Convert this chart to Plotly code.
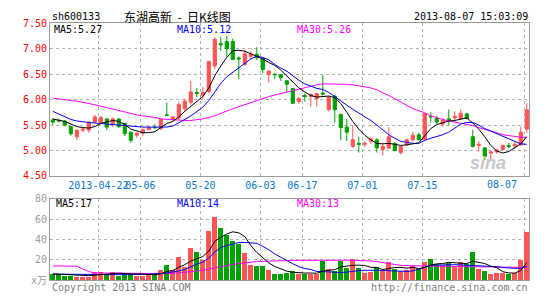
import pandas as pd
import plotly.graph_objects as go

# ---------------- data ----------------
holidays = ["2013-04-29", "2013-04-30", "2013-05-01", "2013-06-10", "2013-06-11", "2013-06-12"]
dates = [d.strftime("%Y-%m-%d") for d in pd.bdate_range("2013-04-10", "2013-08-07") if d.strftime("%Y-%m-%d") not in holidays]

open_ = [5.60, 5.59, 5.58, 5.47, 5.27, 5.40, 5.40, 5.56, 5.55, 5.62,
         5.51, 5.62, 5.53, 5.36, 5.30, 5.34, 5.41, 5.46, 5.43, 5.70,
         5.62, 5.64, 5.82, 5.95, 6.14, 6.08, 6.16, 6.66, 7.10, 7.14,
         7.14, 6.82, 6.69, 6.85, 6.89, 6.81, 6.49, 6.50, 6.49, 6.37,
         6.22, 5.96, 6.08, 6.06, 6.02, 6.13, 5.80, 6.07, 5.71, 5.46,
         5.08, 5.14, 5.12, 5.18, 5.21, 5.02, 5.05, 5.14, 4.96, 5.11,
         5.21, 5.31, 5.22, 5.67, 5.63, 5.52, 5.62, 5.64, 5.63, 5.72,
         5.27, 5.10, 5.05, 4.95, 4.97, 5.02, 5.10, 5.09, 5.11, 5.42]
high = [5.63, 5.63, 5.60, 5.48, 5.41, 5.45, 5.57, 5.70, 5.67, 5.63,
        5.65, 5.63, 5.54, 5.37, 5.36, 5.43, 5.48, 5.52, 5.63, 5.94,
        5.68, 5.96, 6.02, 6.37, 6.23, 6.25, 6.76, 7.23, 7.24, 7.25,
        7.20, 6.85, 6.98, 6.94, 7.03, 6.82, 6.58, 6.52, 6.50, 6.38,
        6.23, 6.05, 6.12, 6.12, 6.13, 6.49, 6.06, 6.08, 5.72, 5.62,
        5.50, 5.27, 5.18, 5.27, 5.24, 5.15, 5.46, 5.16, 5.09, 5.22,
        5.36, 5.35, 5.73, 5.75, 5.68, 5.63, 5.81, 5.77, 5.81, 5.74,
        5.41, 5.18, 5.07, 5.00, 5.04, 5.11, 5.15, 5.17, 5.46, 5.93]
low = [5.50, 5.55, 5.47, 5.29, 5.21, 5.36, 5.35, 5.55, 5.53, 5.40,
       5.46, 5.44, 5.28, 5.15, 5.25, 5.28, 5.40, 5.42, 5.40, 5.68,
       5.58, 5.60, 5.76, 5.90, 6.05, 6.02, 6.12, 6.60, 6.96, 6.84,
       6.78, 6.40, 6.66, 6.78, 6.78, 6.52, 6.34, 6.40, 6.37, 6.15,
       5.91, 5.92, 5.96, 5.86, 5.86, 6.08, 5.77, 5.55, 5.20, 5.19,
       5.05, 4.96, 5.07, 5.13, 4.96, 4.90, 5.03, 4.98, 4.92, 5.08,
       5.18, 5.20, 5.20, 5.55, 5.52, 5.47, 5.50, 5.56, 5.60, 5.61,
       5.06, 4.98, 4.81, 4.81, 4.94, 5.00, 5.04, 5.04, 5.09, 5.35]
close = [5.56, 5.58, 5.50, 5.33, 5.40, 5.42, 5.56, 5.66, 5.65, 5.46,
         5.62, 5.47, 5.33, 5.20, 5.34, 5.41, 5.45, 5.45, 5.61, 5.69,
         5.66, 5.90, 5.97, 6.15, 6.12, 6.14, 6.75, 7.18, 7.08, 7.00,
         6.79, 6.80, 6.90, 6.90, 6.82, 6.59, 6.56, 6.49, 6.43, 6.30,
         5.93, 6.02, 6.06, 6.10, 6.12, 6.11, 6.05, 5.80, 5.45, 5.36,
         5.21, 5.12, 5.14, 5.23, 5.05, 5.08, 5.27, 5.00, 5.08, 5.21,
         5.30, 5.21, 5.72, 5.66, 5.56, 5.60, 5.61, 5.67, 5.73, 5.63,
         5.08, 5.12, 4.88, 4.97, 5.01, 5.10, 5.08, 5.12, 5.36, 5.80]
volume = [6, 6, 5, 5, 4, 4, 4, 8, 8, 6,
          8, 5, 6, 6, 5, 5, 6.6, 5.3, 10.4, 15.1,
          10.4, 22.9, 13.5, 32.3, 28.2, 19.8, 48.6, 62.1, 51.8, 44.8,
          39.2, 35.4, 27.3, 15.4, 14.2, 14.2, 10.1, 6.3, 6.3, 7.5,
          9.1, 6.3, 6.3, 6.3, 6.3, 18.8, 11.6, 9.1, 19.5, 12,
          21.3, 12, 7.8, 8.5, 13.6, 10.5, 18.4, 11.3, 9.3, 10.2,
          14.5, 11.2, 17.8, 21.3, 15.8, 15.7, 17.5, 14.5, 17.9, 15.8,
          28, 11, 9.4, 6.8, 7.3, 7.7, 6.9, 7.5, 20.4, 47.8]

ma5 = [5.62, 5.60, 5.57, 5.52, 5.47, 5.45, 5.44, 5.47, 5.53, 5.56,
       5.59, 5.57, 5.51, 5.42, 5.38, 5.35, 5.35, 5.37, 5.45, 5.53,
       5.57, 5.66, 5.77, 5.87, 5.96, 6.06, 6.23, 6.47, 6.66, 6.83,
       6.96, 6.97, 6.95, 6.90, 6.84, 6.80, 6.73, 6.67, 6.58, 6.47,
       6.34, 6.23, 6.15, 6.08, 6.05, 6.06, 6.07, 6.04, 5.92, 5.75,
       5.57, 5.42, 5.30, 5.21, 5.14, 5.13, 5.14, 5.12, 5.10, 5.11,
       5.13, 5.15, 5.29, 5.43, 5.51, 5.54, 5.58, 5.59, 5.62, 5.64,
       5.54, 5.42, 5.27, 5.10, 4.99, 4.95, 4.98, 5.05, 5.13, 5.27]
ma10 = [5.77, 5.72, 5.66, 5.61, 5.58, 5.56, 5.55, 5.54, 5.53, 5.51,
        5.50, 5.49, 5.48, 5.47, 5.47, 5.46, 5.46, 5.46, 5.46, 5.46,
        5.48, 5.54, 5.61, 5.68, 5.76, 5.85, 5.98, 6.15, 6.32, 6.45,
        6.54, 6.63, 6.72, 6.80, 6.85, 6.83, 6.78, 6.69, 6.62, 6.56,
        6.47, 6.38, 6.31, 6.26, 6.22, 6.20, 6.14, 6.06, 5.97, 5.89,
        5.81, 5.74, 5.66, 5.59, 5.50, 5.40, 5.31, 5.24, 5.18, 5.16,
        5.14, 5.14, 5.20, 5.24, 5.27, 5.31, 5.36, 5.44, 5.52, 5.55,
        5.55, 5.50, 5.43, 5.38, 5.33, 5.28, 5.22, 5.17, 5.13, 5.12]
ma30 = [6.03, 6.01, 6.00, 5.98, 5.97, 5.95, 5.93, 5.90, 5.87, 5.84,
        5.81, 5.79, 5.76, 5.73, 5.70, 5.68, 5.67, 5.65, 5.62, 5.61,
        5.60, 5.59, 5.59, 5.59, 5.60, 5.62, 5.65, 5.68, 5.73, 5.78,
        5.82, 5.86, 5.90, 5.94, 5.98, 6.03, 6.06, 6.09, 6.12, 6.15,
        6.17, 6.20, 6.23, 6.26, 6.29, 6.31, 6.31, 6.31, 6.31, 6.30,
        6.29, 6.27, 6.25, 6.23, 6.19, 6.14, 6.08, 6.02, 5.95, 5.88,
        5.82, 5.78, 5.74, 5.68, 5.64, 5.61, 5.58, 5.56, 5.54, 5.52,
        5.49, 5.45, 5.42, 5.38, 5.35, 5.31, 5.29, 5.27, 5.26, 5.26]

vma5 = [6.3, 6.0, 5.6, 5.3, 5.2, 4.8, 4.5, 5.0, 5.6, 6.0,
        6.8, 7.0, 6.6, 6.2, 6.0, 5.4, 5.7, 5.6, 6.4, 8.5,
        9.6, 12.8, 15.3, 18.8, 21.4, 23.3, 28.5, 38.2, 42.1, 45.4,
        47.5, 46.5, 42.9, 34.0, 27.3, 22.0, 17.0, 13.5, 10.8, 8.9,
        7.8, 7.1, 7.1, 7.1, 6.9, 9.0, 9.9, 10.4, 13.1, 14.2,
        14.7, 14.8, 14.5, 12.7, 12.6, 10.5, 11.7, 12.5, 12.6, 11.9,
        12.7, 11.3, 12.6, 15.0, 16.1, 16.4, 17.6, 17.0, 16.3, 16.3,
        18.7, 17.4, 16.4, 13.8, 12.5, 8.4, 7.2, 7.0, 9.6, 17.2]
vma10 = [6.0, 5.9, 5.8, 5.7, 5.6, 5.5, 5.4, 5.4, 5.3, 5.3,
         5.4, 5.5, 5.5, 5.6, 5.8, 6.0, 5.9, 5.8, 6.3, 7.1,
         7.8, 9.2, 10.6, 13.3, 15.9, 17.8, 21.9, 27.7, 32.1, 34.0,
         35.8, 37.0, 37.1, 37.0, 36.2, 33.2, 30.0, 25.8, 22.4, 19.2,
         16.2, 13.4, 11.5, 10.6, 8.6, 8.5, 8.2, 7.8, 7.6, 8.0,
         9.1, 9.5, 9.8, 10.0, 9.8, 9.6, 9.3, 9.0, 8.7, 8.7,
         9.1, 10.8, 12.5, 14.7, 14.9, 15.1, 15.4, 15.3, 15.0, 14.8,
         14.7, 14.5, 14.3, 14.0, 13.3, 12.5, 12.0, 11.7, 11.9, 13.5]
vma30 = [14.1, 14.1, 14.1, 14.1, 13.8, 11.0, 8.5, 7.2, 7.1, 7.0,
         7.0, 6.9, 6.8, 6.7, 6.6, 6.5, 6.4, 6.4, 6.4, 6.5,
         6.8, 7.2, 7.7, 8.3, 9.0, 9.8, 11.0, 12.5, 13.6, 14.5,
         15.5, 16.4, 17.2, 17.8, 18.3, 18.6, 18.9, 19.1, 19.3, 19.4,
         19.5, 19.6, 19.7, 19.8, 19.9, 19.9, 19.9, 19.8, 19.8, 19.7,
         19.6, 19.5, 19.3, 18.9, 18.3, 17.6, 16.6, 15.5, 14.6, 14.3,
         14.1, 14.0, 13.9, 13.8, 13.8, 13.7, 13.6, 13.5, 13.4, 13.3,
         13.2, 13.0, 12.9, 12.8, 12.6, 12.5, 12.4, 12.3, 12.3, 12.6]

tick_dates = ["2013-04-22", "2013-05-06", "2013-05-20", "2013-06-03",
              "2013-06-17", "2013-07-01", "2013-07-15", "2013-08-07"]
tick_labels = ["2013-04-22", "05-06", "05-20", "06-03", "06-17", "07-01", "07-15", "08-07"]
price_ticks = [4.5, 5.0, 5.5, 6.0, 6.5, 7.0, 7.5]
price_tick_labels = ["4.50", "5.00", "5.50", "6.00", "6.50", "7.00", "7.50"]
vol_ticks = [0, 20, 40, 60, 80]
vol_tick_labels = ["x万", "20", "40", "60", "80"]

# ---------------- styling ----------------
W, H = 545, 300
RED = "#ff5555"
GREEN = "#00a000"
DATE_BLUE = "#0a78c8"
MONO = "DejaVu Sans Mono, Noto Sans CJK SC, monospace"
GRID = "#b4b4b4"
FRAME = "#9a9a9a"

def px(x):
    return x / W

def py(y):
    return 1 - y / H

idx = list(range(len(dates)))
tick_pos = [dates.index(d) - 0.4 for d in tick_dates]
bar_colors = [RED if c >= o else GREEN for o, c in zip(open_, close)]
# the last date label is pulled inside the frame (drawn as an annotation below)
axis_tick_text = tick_labels[:-1] + [""]

fig = go.Figure()

fig.add_trace(go.Candlestick(
    x=idx, open=open_, high=high, low=low, close=close,
    increasing=dict(line=dict(color=RED, width=1), fillcolor=RED),
    decreasing=dict(line=dict(color=GREEN, width=1), fillcolor=GREEN),
    whiskerwidth=0, xaxis="x", yaxis="y", showlegend=False, hoverinfo="skip"))

for series, col in [(ma30, "#ff00ff"), (ma10, "#0000ff"), (ma5, "#000000")]:
    fig.add_trace(go.Scatter(x=idx, y=series, mode="lines", line=dict(color=col, width=1),
                             xaxis="x", yaxis="y", showlegend=False, hoverinfo="skip"))

fig.add_trace(go.Bar(x=idx, y=volume, marker=dict(color=bar_colors, line=dict(width=0)),
                     width=0.8, xaxis="x2", yaxis="y2", showlegend=False, hoverinfo="skip"))

for series, col in [(vma30, "#ff00ff"), (vma10, "#0000ff"), (vma5, "#000000")]:
    fig.add_trace(go.Scatter(x=idx, y=series, mode="lines", line=dict(color=col, width=1),
                             xaxis="x2", yaxis="y2", showlegend=False, hoverinfo="skip"))

xrange = [-0.47, len(dates) - 1 + 0.37]
xdom = [px(50), px(529)]

common_x = dict(range=xrange, domain=xdom, showline=True, mirror=True, linecolor=FRAME, linewidth=1,
                showgrid=True, gridcolor=GRID, griddash="dot", gridwidth=1, zeroline=False,
                tickmode="array", tickvals=tick_pos, ticks="", tickangle=0, fixedrange=True)

fig.update_layout(
    width=W, height=H,
    margin=dict(l=0, r=0, t=0, b=0),
    paper_bgcolor="white", plot_bgcolor="white",
    boxgap=0.25,
    bargap=0,
    xaxis=dict(**common_x, anchor="y", ticktext=axis_tick_text,
               tickfont=dict(family=MONO, size=10, color=DATE_BLUE),
               rangeslider=dict(visible=False)),
    yaxis=dict(domain=[py(177), py(18)], range=[4.5, 7.5], tickvals=price_ticks, ticktext=price_tick_labels,
               tickfont=dict(family=MONO, size=10, color="#ff0000"), showline=True, mirror=True,
               linecolor=FRAME, linewidth=1, showgrid=True, gridcolor=GRID, griddash="dot",
               zeroline=False, ticks="", anchor="x", fixedrange=True),
    xaxis2=dict(**common_x, anchor="y2", showticklabels=False, ticktext=tick_labels),
    yaxis2=dict(domain=[py(285.7), py(200.7)], range=[0, 80], tickvals=vol_ticks, ticktext=vol_tick_labels,
                tickfont=dict(family=MONO, size=10, color="#9a9a9a"), showline=True, mirror=True,
                linecolor=FRAME, linewidth=1, showgrid=True, gridcolor=GRID, griddash="dot",
                zeroline=False, ticks="", anchor="x2", fixedrange=True),
    showlegend=False,
)

def label(x, y, text, color="#000000", size=10, family=MONO, xanchor="left"):
    fig.add_annotation(x=px(x), y=py(y), xref="paper", yref="paper", text=text, showarrow=False,
                       xanchor=xanchor, yanchor="middle", font=dict(family=family, size=size, color=color))

label(50, 11, "sh600133")
label(177, 11, "东湖高新 &nbsp;- &nbsp;日K线图", size=12, family="Noto Sans CJK SC", xanchor="center")
label(530, 11, "2013-08-07 15:03:09", xanchor="right")

label(52, 24, f"MA5:{ma5[-1]:.2f}")
label(175, 24, f"MA10:{ma10[-1]:.2f}", color="#0000ff")
label(295, 24, f"MA30:{ma30[-1]:.2f}", color="#ff00ff")

label(54, 206, f"MA5:{vma5[-1]:.0f}")
label(175, 206, f"MA10:{vma10[-1]:.0f}", color="#0000ff")
label(295, 206, f"MA30:{vma30[-1]:.0f}", color="#ff00ff")

label(519, 186, tick_labels[-1], color=DATE_BLUE, xanchor="right")

label(50, 293, "Copyright 2013 SINA.COM", color="#808080")
label(530, 293, "http://finance.sina.com.cn", color="#808080", xanchor="right")

fig.add_annotation(x=px(508), y=py(164), xref="paper", yref="paper", text="sina", showarrow=False,
                   font=dict(family="Liberation Sans", size=18, color="#c8c8c8", weight="bold", style="italic"))

fig.write_html("out.html")
